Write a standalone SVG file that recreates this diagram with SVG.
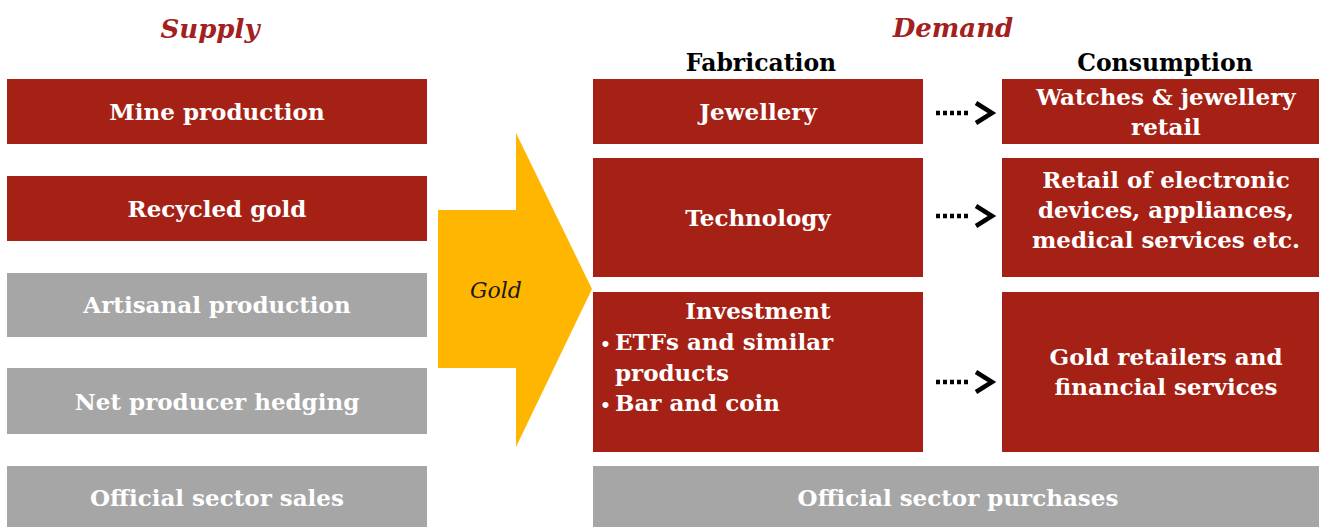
<svg xmlns="http://www.w3.org/2000/svg" width="1319" height="527" viewBox="0 0 1319 527">
<style>
.red{fill:#a52116}
.gray{fill:#a6a6a6}
.t{font-family:"DejaVu Serif","Liberation Serif",serif;font-weight:bold;font-size:23px;fill:#fff;text-anchor:middle}
.tl{text-anchor:start}
.h{font-family:"DejaVu Serif","Liberation Serif",serif;font-weight:bold;font-size:23.5px;fill:#000;text-anchor:middle}
.title{font-family:"DejaVu Serif","Liberation Serif",serif;font-weight:bold;font-style:italic;font-size:26px;fill:#a32020;text-anchor:middle}
.dots{fill:none;stroke:#000;stroke-width:4.5;stroke-dasharray:4 3}
.chev{fill:none;stroke:#000;stroke-width:4.5;stroke-linejoin:miter}
</style>
<rect width="1319" height="527" fill="#fff"/>
<text class="title" x="210" y="38">Supply</text>
<text class="title" x="953" y="37">Demand</text>
<text class="h" x="761" y="71">Fabrication</text>
<text class="h" x="1165" y="71">Consumption</text>

<g id="mine"><rect class="red" x="7" y="79" width="420" height="65"/><text class="t" x="217" y="120">Mine production</text></g>
<g id="recycled"><rect class="red" x="7" y="176" width="420" height="65"/><text class="t" x="217" y="217">Recycled gold</text></g>
<g id="artisanal"><rect class="gray" x="7" y="273" width="420" height="64"/><text class="t" x="217" y="313">Artisanal production</text></g>
<g id="hedging"><rect class="gray" x="7" y="368" width="420" height="66"/><text class="t" x="217" y="410">Net producer hedging</text></g>
<g id="official-sales"><rect class="gray" x="7" y="466" width="420" height="61"/><text class="t" x="217" y="506">Official sector sales</text></g>

<g id="gold-arrow"><path d="M438,210 H516 V133 L592,289 L516,447 V368 H438 Z" fill="#ffb600"/><text x="496" y="298" font-family="DejaVu Serif, Liberation Serif, serif" font-style="italic" font-size="22" fill="#1a1a1a" text-anchor="middle">Gold</text></g>

<g id="jewellery"><rect class="red" x="593" y="79" width="330" height="65"/><text class="t" x="758" y="120">Jewellery</text></g>
<g id="technology"><rect class="red" x="593" y="158" width="330" height="119"/><text class="t" x="758" y="226">Technology</text></g>
<g id="investment"><rect class="red" x="593" y="292" width="330" height="160"/>
<text class="t" x="758" y="319">Investment</text>
<text class="t tl" x="600" y="350"><tspan font-size="17">•</tspan><tspan x="615">ETFs and similar</tspan></text>
<text class="t tl" x="615" y="381">products</text>
<text class="t tl" x="600" y="411"><tspan font-size="17">•</tspan><tspan x="615">Bar and coin</tspan></text></g>

<g id="watches"><rect class="red" x="1002" y="79" width="317" height="65"/><text class="t" x="1166" y="105">Watches &amp; jewellery</text><text class="t" x="1166" y="135">retail</text></g>
<g id="retail-electronic"><rect class="red" x="1002" y="158" width="317" height="119"/><text class="t" x="1166" y="188">Retail of electronic</text><text class="t" x="1166" y="218">devices, appliances,</text><text class="t" x="1166" y="248">medical services etc.</text></g>
<g id="gold-retailers"><rect class="red" x="1002" y="292" width="317" height="160"/><text class="t" x="1166" y="365">Gold retailers and</text><text class="t" x="1166" y="395">financial services</text></g>

<g id="official-purchases"><rect class="gray" x="593" y="466" width="726" height="61"/><text class="t" x="958" y="506">Official sector purchases</text></g>

<g id="connectors">
<line class="dots" x1="936" y1="113" x2="971" y2="113"/>
<path class="chev" d="M976,103 L992,113 L976,123"/>
<line class="dots" x1="936" y1="216" x2="971" y2="216"/>
<path class="chev" d="M976,206 L992,216 L976,226"/>
<line class="dots" x1="936" y1="382" x2="971" y2="382"/>
<path class="chev" d="M976,372 L992,382 L976,392"/>
</g>
</svg>
